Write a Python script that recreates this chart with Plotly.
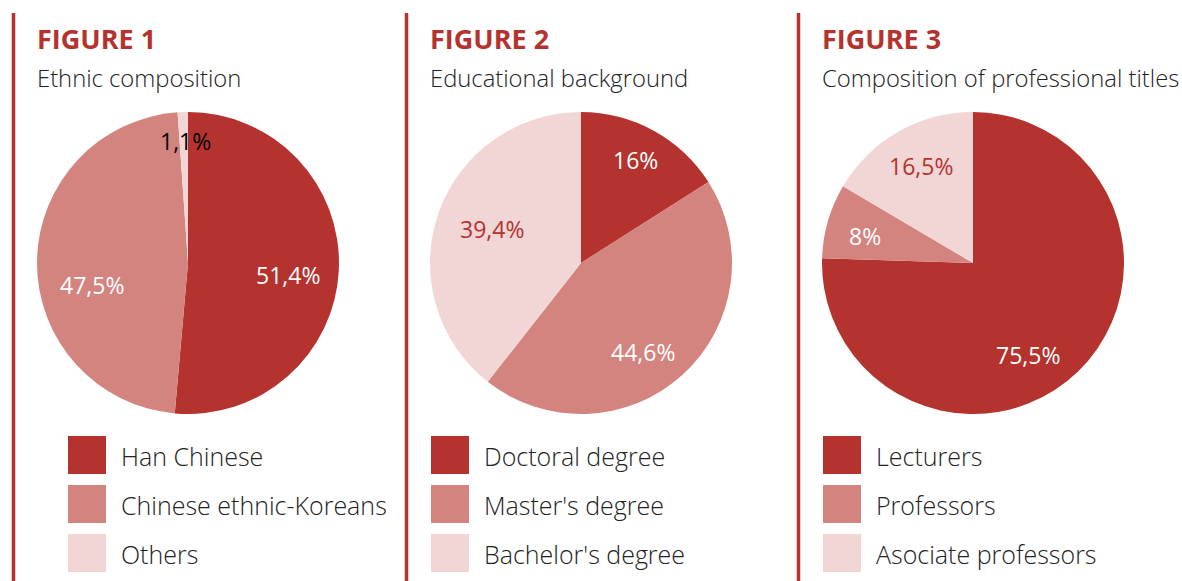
import math
import plotly.graph_objects as go

W, H = 1182, 581

# ---- data ----
fig_titles = ["FIGURE 1", "FIGURE 2", "FIGURE 3"]
subtitles = ["Ethnic composition", "Educational background", "Composition of professional titles"]

ethnic_labels = ["Han Chinese", "Chinese ethnic-Koreans", "Others"]
ethnic_values = [51.4, 47.5, 1.1]
ethnic_text = ["51,4%", "47,5%", "1,1%"]

edu_labels = ["Doctoral degree", "Master's degree", "Bachelor's degree"]
edu_values = [16, 44.6, 39.4]
edu_text = ["16%", "44,6%", "39,4%"]

title_labels = ["Lecturers", "Professors", "Asociate professors"]
title_values = [75.5, 8, 16.5]
title_text = ["75,5%", "8%", "16,5%"]

# ---- style ----
DARK = "#B5332E"
MID = "#D4847F"
LIGHT = "#F2D6D6"
COLORS = [DARK, MID, LIGHT]
FONT = "Open Sans"
TXT = "#222222"

panels = [
    dict(labels=ethnic_labels, values=ethnic_values, text=ethnic_text,
         bar_x=13.5, title_x=38, cx=188, leg_x=68,
         label_colors=["white", "white", "black"],
         rfrac=[0.67, 0.65, 0.81], dang=[4.5, -13.5, 0.7]),
    dict(labels=edu_labels, values=edu_values, text=edu_text,
         bar_x=406.5, title_x=431, cx=581, leg_x=431,
         label_colors=["white", "white", DARK],
         rfrac=[0.77, 0.72, 0.63], dang=[-0.7, 7.2, 1.9]),
    dict(labels=title_labels, values=title_values, text=title_text,
         bar_x=798.5, title_x=823, cx=973, leg_x=823,
         label_colors=["white", "white", DARK],
         rfrac=[0.71, 0.74, 0.73], dang=[13.2, -2.2, 1.5]),
]

CY = 263
R = 151


def px(x):
    return x / W


def py(y):
    return 1 - y / H


fig = go.Figure()
annotations = []
shapes = []

for i, p in enumerate(panels):
    fig.add_trace(go.Pie(
        labels=p["labels"], values=p["values"],
        marker=dict(colors=COLORS, line=dict(width=0)),
        sort=False, direction="clockwise", rotation=0,
        textinfo="none", hoverinfo="label+percent",
        showlegend=False,
        domain=dict(x=[px(p["cx"] - R), px(p["cx"] + R)],
                    y=[py(CY + R), py(CY - R)]),
    ))
    # slice labels placed along each slice's mid-angle
    total = sum(p["values"])
    cum = 0
    for j, v in enumerate(p["values"]):
        mid = (cum + v / 2) / total * 2 * math.pi + math.radians(p["dang"][j])
        cum += v
        r = R * p["rfrac"][j]
        x = p["cx"] + r * math.sin(mid)
        y = CY - r * math.cos(mid)
        annotations.append(dict(
            x=px(x), y=py(y), xref="paper", yref="paper",
            text=p["text"][j], showarrow=False,
            xanchor="center", yanchor="middle",
            font=dict(family=FONT, size=23, color=p["label_colors"][j]),
        ))
    # vertical bar
    shapes.append(dict(type="line", xref="paper", yref="paper",
                       x0=px(p["bar_x"]), x1=px(p["bar_x"]),
                       y0=py(13), y1=0,
                       line=dict(color=DARK, width=3.5)))
    # titles
    annotations.append(dict(
        x=px(p["title_x"] - 3), y=py(38), xref="paper", yref="paper",
        text="<b>" + fig_titles[i] + "</b>", showarrow=False,
        xanchor="left", yanchor="middle",
        font=dict(family=FONT, size=27, color=DARK),
    ))
    annotations.append(dict(
        x=px(p["title_x"] - 3), y=py(78), xref="paper", yref="paper",
        text=subtitles[i], showarrow=False,
        xanchor="left", yanchor="middle",
        font=dict(family=FONT, size=23.8, color=TXT, weight=300),
    ))
    # legend
    for j, lab in enumerate(p["labels"]):
        top = 436 + 49 * j
        shapes.append(dict(type="rect", xref="paper", yref="paper",
                           x0=px(p["leg_x"]), x1=px(p["leg_x"] + 38),
                           y0=py(top + 38), y1=py(top),
                           fillcolor=COLORS[j], line=dict(width=0)))
        annotations.append(dict(
            x=px(p["leg_x"] + 51), y=py(top + 20), xref="paper", yref="paper",
            text=lab, showarrow=False, xanchor="left", yanchor="middle",
            font=dict(family=FONT, size=25, color=TXT, weight=300),
        ))

fig.update_layout(
    width=W, height=H,
    margin=dict(l=0, r=0, t=0, b=0),
    paper_bgcolor="white", plot_bgcolor="white",
    annotations=annotations, shapes=shapes,
)

fig.write_html("out.html")
